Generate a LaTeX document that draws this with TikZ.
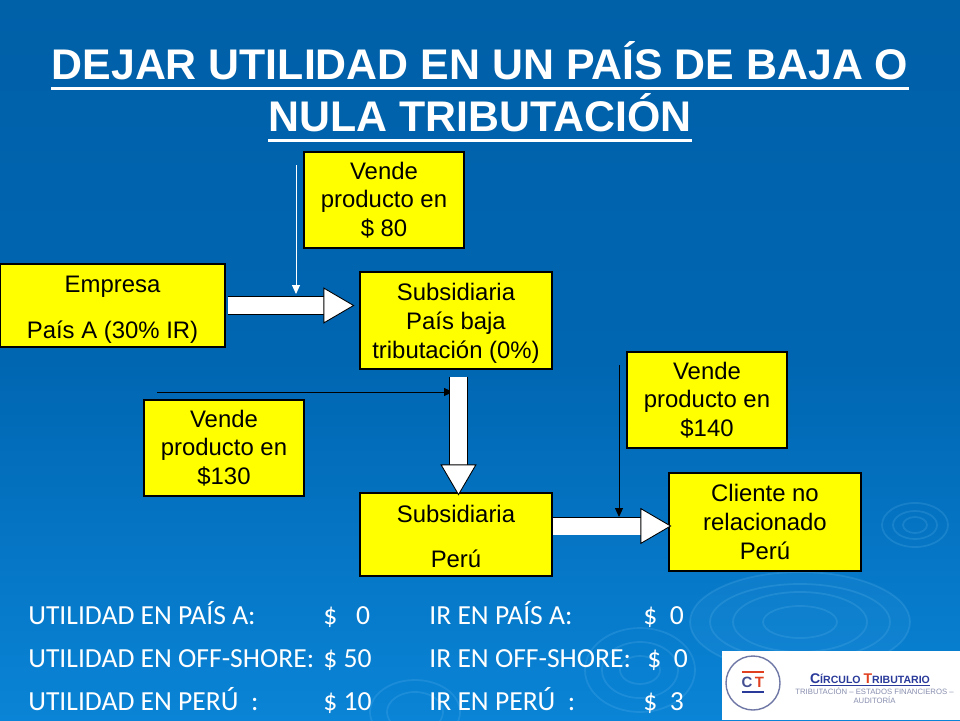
\documentclass[tikz,border=0pt]{standalone}
\usepackage{fontspec}
\setmainfont{Liberation Sans}
\newfontfamily\narrowfont{Carlito}
\usetikzlibrary{arrows.meta}
\definecolor{bgtop}{HTML}{0060A8}
\definecolor{bgmid}{HTML}{0066B2}
\definecolor{bgbot}{HTML}{0A84D6}
\definecolor{boxyellow}{HTML}{FFFF00}
\definecolor{ripple}{HTML}{6CBCF0}
\definecolor{logoblue}{HTML}{2A3A9A}
\definecolor{logored}{HTML}{E04020}
\begin{document}
\begin{tikzpicture}[x=0.02cm,y=-0.02cm]

\def\px{0.02cm}

\tikzset{box/.style = {draw=black, fill=boxyellow, rectangle, inner sep=0pt, align=center, font=\fontsize{13.6pt}{16.4pt}\selectfont, line width=0.6pt}}
\tikzset{heading/.style = {text=white, anchor=base, font=\fontsize{24.4pt}{28pt}\bfseries\selectfont, inner sep=0pt}}
\tikzset{headline/.style = {draw=white, line width=3*\px}}
\tikzset{summary/.style = {text=white, anchor=base west, inner sep=0pt, font=\fontsize{15.7pt}{18pt}\narrowfont\selectfont}}
\tikzset{bigarrow/.style = {double=white, draw=black, line width=0.5pt, double distance=17*\px, -{Triangle[length=31*\px,width=36*\px,fill=white,line width=0.5pt]}}}
\tikzset{thinarrow/.style = {line width=0.5pt, -{Triangle[length=9*\px,width=8*\px]}}}
\tikzset{ring/.style = {draw=ripple, line width=1pt, opacity=0.2}}
\tikzset{glow/.style = {fill=ripple, opacity=0.08}}

% background
\fill[bottom color=bgbot, top color=bgtop, middle color=bgmid] (0,0) rectangle (960,720);
\useasboundingbox (0,0) rectangle (960,720);

% ripples
\foreach \rw/\rh in {33/22,22/14,12/8} {\draw[ring] (915,525) ellipse ({\rw} and {\rh});}
\fill[glow] (800,622) ellipse (110 and 50);
\foreach \rw/\rh in {110/50,90/38,67/30,37/16} {\draw[ring] (800,622) ellipse ({\rw} and {\rh});}
\foreach \rw/\rh in {55/42,38/28,20/14} {\draw[ring] (640,670) ellipse ({\rw} and {\rh});}
\foreach \rw/\rh in {45/32,28/20} {\draw[ring] (415,712) ellipse ({\rw} and {\rh});}

% title
\node[heading] (title1) at (480,79) {DEJAR UTILIDAD EN UN PAÍS DE BAJA O};
\node[heading] (title2) at (480,131) {NULA TRIBUTACIÓN};
\draw[headline] ([yshift=-9*\px]title1.base west) -- ([yshift=-9*\px]title1.base east);
\draw[headline] ([yshift=-9*\px]title2.base west) -- ([yshift=-9*\px]title2.base east);

% boxes
\node[box, minimum width=160*\px, minimum height=96*\px] (price80) at (384,200) {Vende\\producto en\\\$ 80};
\node[box, minimum width=225*\px, minimum height=83*\px] (company) at (112.5,305.5) {\rule{0pt}{14pt}Empresa\\[9.5pt]País A (30\% IR)};
\node[box, minimum width=192*\px, minimum height=97*\px] (offshore) at (456,320.5) {\rule{0pt}{13pt}Subsidiaria\\País baja\\tributación (0\%)};
\node[box, minimum width=160*\px, minimum height=96*\px] (price140) at (707,400) {Vende\\producto en\\\$140};
\node[box, minimum width=160*\px, minimum height=96*\px] (price130) at (224,448) {Vende\\producto en\\\$130};
\node[box, minimum width=192*\px, minimum height=83*\px] (peru) at (456,534.5) {\rule{0pt}{12pt}Subsidiaria\\[9.5pt]Perú};
\node[box, minimum width=192*\px, minimum height=98*\px] (client) at (765,522) {Cliente no\\relacionado\\Perú};

% thin arrows
\coordinate (c80) at (296,165);
\coordinate (e80) at (296,294);
\coordinate (c130) at (157,392);
\coordinate (e130) at (453,392);
\coordinate (c140) at (619,365);
\coordinate (e140) at (619,517);
\draw[thinarrow, draw=white, fill=white] (c80) -- (e80);
\draw[thinarrow, draw=black, fill=black] (c130) -- (e130);
\draw[thinarrow, draw=black, fill=black] (c140) -- (e140);

% block arrows
\draw[bigarrow, shorten <=2*\px, shorten >=5*\px] (company.east) -- (company.east -| offshore.west);
\draw[bigarrow, shorten <=7*\px, shorten >=-3*\px] ([xshift=2.5*\px]offshore.south) -- ([xshift=2.5*\px]peru.north);
\draw[bigarrow, shorten >=-3*\px] ([yshift=8.5*\px]peru.east) -- ([yshift=8.5*\px]peru.east -| client.west);

% summary
\node[summary] (ua) at (28,624) {UTILIDAD EN PAÍS A:};
\node[summary] (uo) at (28,667) {UTILIDAD EN OFF-SHORE:};
\node[summary] (up) at (28,710) {UTILIDAD EN PERÚ\ \ :};
\node[summary] (va) at (323,624) {\$\ \ \ 0};
\node[summary] (vo) at (323,667) {\$ 50};
\node[summary] (vp) at (323,710) {\$ 10};
\node[summary] (ia) at (429,624) {IR EN PAÍS A:};
\node[summary] (io) at (429,667) {IR EN OFF-SHORE:};
\node[summary] (ip) at (429,710) {IR EN PERÚ\ \ :};
\node[summary] (wa) at (643,624) {\$\ \ 0};
\node[summary] (wo) at (647,667) {\$\ \ 0};
\node[summary] (wp) at (643,710) {\$\ \ 3};

% logo
\fill[white] (722,651) rectangle (960,720);
\draw[color=logoblue!60!gray!80, line width=0.8pt] (753,683) circle (27);
\fill[logored] (742,670.5) rectangle (764,673);
\fill[logoblue] (742,690.5) rectangle (764,693);
\node[inner sep=0pt, font=\fontsize{8.5pt}{9pt}\bfseries\selectfont, text=logoblue!70!gray] (logoc) at (747,682.5) {C};
\node[inner sep=0pt, font=\fontsize{8.5pt}{9pt}\bfseries\selectfont, text=logored] (logot) at (759.5,682.5) {T};
\node[inner sep=0pt, font=\fontsize{6pt}{7pt}\bfseries\selectfont, text=logoblue] (logoname) at (870,680) {\underline{{\fontsize{8pt}{8pt}\selectfont C}ÍRCULO {\fontsize{8pt}{8pt}\selectfont\textcolor{logored}{T}}RIBUTARIO}};
\node[inner sep=0pt, align=center, font=\fontsize{4.4pt}{5.2pt}\selectfont, text=logoblue!50!gray!70] (logosub) at (874.5,695.5) {TRIBUTACIÓN -- ESTADOS FINANCIEROS --\\AUDITORÍA};

\end{tikzpicture}
\end{document}
